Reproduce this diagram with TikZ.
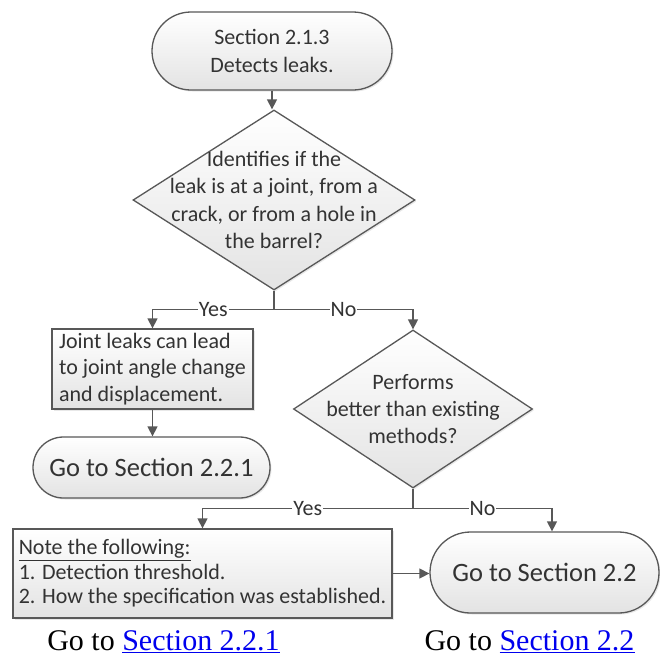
\documentclass[tikz,border=0pt]{standalone}
\usepackage{fontspec}
\setmainfont{Carlito}
\newfontfamily\linkfont{Liberation Serif}
\usetikzlibrary{shapes.geometric,arrows.meta,shadows}
\definecolor{ink}{HTML}{333333}
\definecolor{edge}{HTML}{585858}
\definecolor{linkblue}{HTML}{0000EE}

\begin{document}
\begin{tikzpicture}[x=1pt,y=-1pt,
  shapebase/.style={draw=edge, line width=1.3pt, top color=white, bottom color=black!11,
    text=ink, inner sep=0pt,
    drop shadow={shadow xshift=1.5pt, shadow yshift=-1.5pt, opacity=0.18}},
  terminal/.style={shapebase, rectangle, rounded corners=#1, align=center},
  process/.style={shapebase, rectangle, align=left},
  decision/.style={shapebase, diamond},
  body/.style={font=\fontsize{22}{#1}\selectfont},
  big/.style={font=\fontsize{26.5}{30}\selectfont},
  txt/.style={text=ink, align=center, inner sep=0pt},
  flow/.style={draw=edge, line width=1.3pt},
  arrow/.style={flow, -{Triangle[length=10pt,width=10pt]}},
  lbl/.style={fill=white, text=ink, inner sep=1pt, font=\fontsize{22}{22}\selectfont},
  link/.style={font=\linkfont\fontsize{30}{30}\selectfont, anchor=base, inner sep=0pt}
]
\useasboundingbox[fill=white] (0,0) rectangle (660,656);

% start terminal
\node[terminal=39pt, body=28, minimum width=240pt, minimum height=78pt] (start) at (272,51)
  {Section 2.1.3\\Detects leaks.};

% first decision
\node[decision, minimum width=282pt, minimum height=180pt] (q1) at (274,200) {};
\node[txt, body=27.3] (q1t) at (q1.center)
  {Identifies if the\\leak is at a joint, from a\\crack, or from a hole in\\the barrel?};

% joint leak box and its terminal
\node[process, body=26.5, minimum width=201pt, minimum height=80pt] (b1) at (152.5,369)
  {Joint leaks can lead\\to joint angle change\\and displacement.};
\node[terminal=30.5pt, big, minimum width=237pt, minimum height=61pt] (t2) at (151.5,467.5)
  {Go to Section 2.2.1};

% second decision
\node[decision, minimum width=239pt, minimum height=158pt] (q2) at (413,409) {};
\node[txt, body=27] (q2t) at (q2.center)
  {Performs\\better than existing\\methods?};

% note box and final terminal
\node[process, body=24.5, minimum width=379pt, minimum height=89pt] (b3) at (202.5,573.5)
  {\underline{Note the following:}\\1. Detection threshold.\\2. How the specification was established.};
\node[terminal=40.5pt, big, minimum width=229pt, minimum height=81pt] (t3) at (544.5,572.5)
  {Go to Section 2.2};

% connectors
\draw[arrow] (start.south) -- (start.south |- q1.north);
\draw[flow] (q1.south) -- ++(0,19) coordinate (j1);
\draw[arrow] (j1) -| node[lbl, pos=0.25] {Yes} (b1.north);
\draw[arrow] (j1) -| node[lbl, pos=0.25] {No} (q2.north);
\draw[arrow] (b1.south) -- (b1.south |- t2.north);
\draw[flow] (q2.south) -- ++(0,20) coordinate (j2);
\draw[arrow] (j2) -| node[lbl, pos=0.25] {Yes} (b3.north);
\draw[arrow] (j2) -| node[lbl, pos=0.25] {No} ([xshift=7.5pt]t3.north);
\draw[arrow] (b3.east) -- (b3.east -| t3.west);

% links below the chart
\node[link] (go1) at (163.5,650) {Go to \textcolor{linkblue}{\underline{Section 2.2.1}}};
\node[link] (go2) at (529.5,650) {Go to \textcolor{linkblue}{\underline{Section 2.2}}};
\end{tikzpicture}
\end{document}
